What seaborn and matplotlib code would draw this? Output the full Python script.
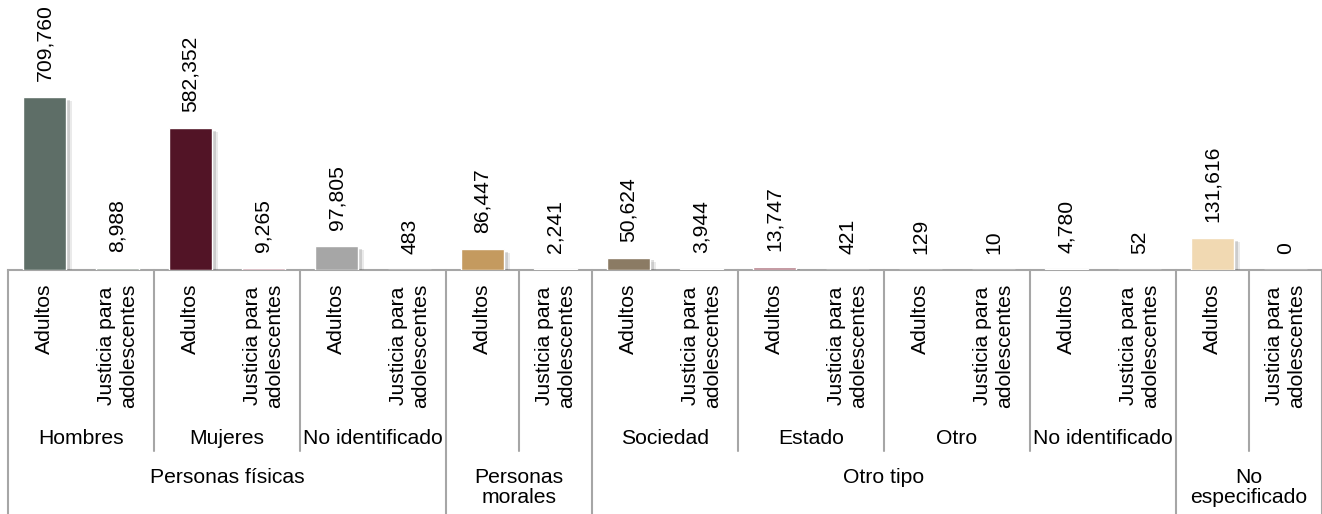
import matplotlib
matplotlib.use("Agg")
import matplotlib.pyplot as plt
import matplotlib.patheffects as pe
import pandas as pd
import seaborn as sns

# ── data ─────────────────────────────────────────────────────────────────────
nivel_sup = (["Personas físicas"] * 6 + ["Personas\nmorales"] * 2
             + ["Otro tipo"] * 8 + ["No\nespecificado"] * 2)
nivel_med = ["Hombres", "Hombres", "Mujeres", "Mujeres",
             "No identificado", "No identificado", "", "",
             "Sociedad", "Sociedad", "Estado", "Estado", "Otro", "Otro",
             "No identificado", "No identificado", "", ""]
tipo = ["Adultos", "Justicia para\nadolescentes"] * 9
valores = [709760, 8988, 582352, 9265, 97805, 483, 86447, 2241,
           50624, 3944, 13747, 421, 129, 10, 4780, 52, 131616, 0]
colores = ["#5E6E67", "#8C978F", "#521426", "#C49BA5", "#A6A6A6", "#A6A6A6",
           "#C49A5F", "#C49A5F", "#8B7B64", "#8B7B64", "#B8848F", "#B8848F",
           "#7A8C7E", "#7A8C7E", "#4A87A3", "#4A87A3", "#F1D9B2", "#F1D9B2"]

df = pd.DataFrame({"sup": nivel_sup, "med": nivel_med, "tipo": tipo, "valor": valores})
df["clave"] = df["sup"] + "|" + df["med"] + "|" + df["tipo"]

sns.set_style("white")
plt.rcParams["font.family"] = ["Liberation Sans", "DejaVu Sans"]
plt.rcParams["text.color"] = "black"
plt.rcParams["xtick.color"] = "black"

FS = 15.2
W, H = 1322, 514
fig = plt.figure(figsize=(W / 100, H / 100), dpi=100)
ax = fig.add_axes([8 / W, 244 / H, 1314 / W, 270 / H])

sns.barplot(data=df, x="clave", y="valor", hue="clave", palette=colores,
            legend=False, width=0.59, saturation=1, ax=ax)
for bar in ax.patches:
    bar.set_zorder(3)
    bar.set_path_effects([
        pe.SimplePatchShadow(offset=(4, -3), shadow_rgbFace="#555555", alpha=0.12),
        pe.SimplePatchShadow(offset=(2.5, -2), shadow_rgbFace="#555555", alpha=0.2),
        pe.Normal(),
    ])

ax.set_xlim(-0.5, len(df) - 0.5)
ax.set_ylim(0, 1.108e6)
for s in ["top", "left", "right"]:
    ax.spines[s].set_visible(False)
ax.spines["bottom"].set_color("#A6A6A6")
ax.spines["bottom"].set_linewidth(1.5)
ax.spines["bottom"].set_zorder(2)
ax.set_yticks([])
ax.set_xlabel("")
ax.set_ylabel("")

# value labels
for i, v in enumerate(df["valor"]):
    ax.annotate(f"{v:,}", (i, v), xytext=(0, 11.5), textcoords="offset points",
                rotation=90, ha="center", va="bottom", fontsize=FS)

# leaf tick labels
ax.set_xticks(range(len(df)))
ax.set_xticklabels(df["tipo"], rotation=90, fontsize=FS, va="top", ha="center",
                   linespacing=1.2)
ax.tick_params(axis="x", length=0, pad=10)

trans = ax.get_xaxis_transform()
ypx = lambda p: (270 - p) / 270  # pixel row (from top) -> axes fraction
n = len(df)

# middle level labels
i = 0
while i < n:
    j = i
    while j + 1 < n and df["med"][j + 1] == df["med"][i] and df["sup"][j + 1] == df["sup"][i]:
        j += 1
    if df["med"][i]:
        ax.text((i + j) / 2, ypx(438), df["med"][i], transform=trans,
                ha="center", va="center", fontsize=FS)
    i = j + 1

# top level labels
i = 0
while i < n:
    j = i
    while j + 1 < n and df["sup"][j + 1] == df["sup"][i]:
        j += 1
    ax.text((i + j) / 2, ypx(468), df["sup"][i], transform=trans,
            ha="center", va="top", fontsize=FS, linespacing=1.05)
    i = j + 1

# separator lines
line_kw = dict(transform=trans, clip_on=False, color="#A6A6A6", lw=1.5)
ax.plot([-0.5, -0.5], [0, ypx(520)], **line_kw)
for k in range(n):
    b = k + 0.5
    last = k == n - 1
    if last or df["sup"][k] != df["sup"][k + 1]:
        ax.plot([b, b], [0, ypx(520)], **line_kw)
    elif df["med"][k] != df["med"][k + 1] or df["med"][k] == "":
        ax.plot([b, b], [0, ypx(451)], **line_kw)

fig.savefig("out.png", dpi=100)
